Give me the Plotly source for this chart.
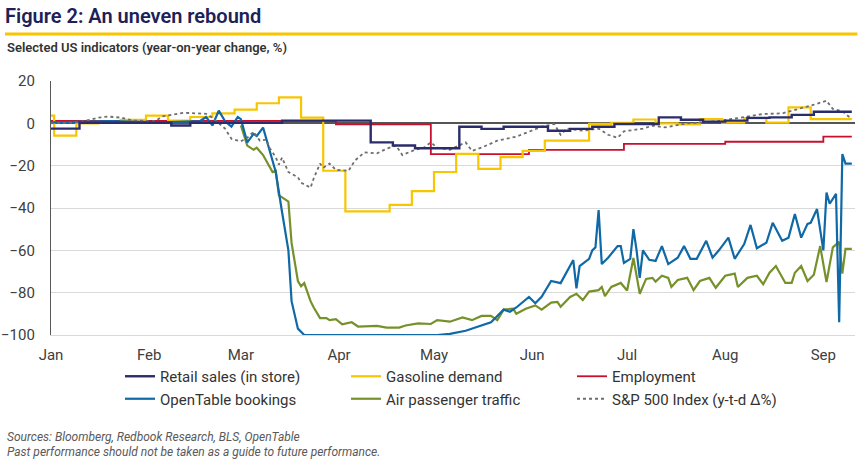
import plotly.graph_objects as go

# Data (2020, year-on-year change in %)

retail_dates = ["2020-01-01", "2020-01-10", "2020-02-08", "2020-02-14", "2020-03-14",
                "2020-04-11", "2020-04-18", "2020-04-25", "2020-05-09", "2020-05-16",
                "2020-05-23", "2020-06-06", "2020-06-13", "2020-06-20", "2020-06-27",
                "2020-07-11", "2020-07-18", "2020-07-25", "2020-08-01", "2020-08-08",
                "2020-08-15", "2020-08-22", "2020-08-29", "2020-09-10"]
retail_vals = [-2.5, 0.3, -1.0, 0.3, 1.3,
               -9.0, -10.5, -11.8, -1.6, -2.6,
               -1.6, -3.5, -2.6, -1.6, -0.3,
               2.8, 1.7, 0.8, 1.3, 2.6,
               2.8, 4.0, 5.5, 5.5]

gas_dates = ["2020-01-01", "2020-01-02", "2020-01-09", "2020-01-16", "2020-01-23",
             "2020-01-31", "2020-02-07", "2020-02-14", "2020-02-21", "2020-02-28",
             "2020-03-06", "2020-03-13", "2020-03-20", "2020-03-27", "2020-04-03",
             "2020-04-17", "2020-04-24", "2020-05-01", "2020-05-08", "2020-05-15",
             "2020-05-22", "2020-05-29", "2020-06-05", "2020-06-19", "2020-06-26",
             "2020-07-03", "2020-07-10", "2020-07-17", "2020-07-24", "2020-07-31",
             "2020-08-07", "2020-08-14", "2020-08-21", "2020-08-28", "2020-09-10"]
gas_vals = [3.6, -5.8, 0.0, 0.3, 1.6,
            3.6, 1.3, 3.0, 4.7, 6.5,
            9.5, 12.3, 2.7, -22.4, -41.6,
            -38.5, -32.0, -23.0, -14.4, -21.5,
            -16.0, -13.0, -8.2, -0.3, 0.2,
            1.8, 0.0, -0.5, 2.0, 0.3,
            2.5, 0.3, 7.5, 2.0, 2.0]

emp_dates = ["2020-01-01", "2020-03-31", "2020-04-30", "2020-05-31", "2020-06-30",
             "2020-08-01", "2020-09-01", "2020-09-10"]
emp_vals = [1.2, -0.5, -14.5, -12.5, -9.7, -8.7, -6.3, -6.3]

opentable_dates = ["2020-01-01", "2020-01-20", "2020-02-05", "2020-02-17", "2020-02-19",
                   "2020-02-21", "2020-02-23", "2020-02-25", "2020-02-27", "2020-02-29",
                   "2020-03-01", "2020-03-03", "2020-03-05", "2020-03-06", "2020-03-08",
                   "2020-03-11", "2020-03-12", "2020-03-14", "2020-03-16", "2020-03-17",
                   "2020-03-19", "2020-03-21", "2020-05-02", "2020-05-06", "2020-05-11",
                   "2020-05-15", "2020-05-19", "2020-05-21", "2020-05-23", "2020-05-25",
                   "2020-05-27", "2020-05-31", "2020-06-02", "2020-06-04", "2020-06-07",
                   "2020-06-10", "2020-06-12", "2020-06-14", "2020-06-15", "2020-06-16",
                   "2020-06-19", "2020-06-20", "2020-06-21", "2020-06-22", "2020-06-23",
                   "2020-06-25", "2020-06-28", "2020-06-29", "2020-06-30", "2020-07-02",
                   "2020-07-03", "2020-07-04", "2020-07-05", "2020-07-06", "2020-07-08",
                   "2020-07-10", "2020-07-12", "2020-07-14", "2020-07-17", "2020-07-19",
                   "2020-07-21", "2020-07-23", "2020-07-26", "2020-07-28", "2020-07-30",
                   "2020-08-02", "2020-08-04", "2020-08-07", "2020-08-09", "2020-08-11",
                   "2020-08-14", "2020-08-16", "2020-08-19", "2020-08-21", "2020-08-23",
                   "2020-08-25", "2020-08-27", "2020-08-28", "2020-08-30", "2020-09-01",
                   "2020-09-02", "2020-09-03", "2020-09-05", "2020-09-06", "2020-09-07",
                   "2020-09-08", "2020-09-10"]
opentable_vals = [0.5, 1.0, 0.5, 1.0, 3.0,
                  -1.0, 6.0, 1.0, -1.5, 3.0,
                  2.0, -9.0, -5.0, -6.0, -2.0,
                  -18.0, -23.0, -42.0, -60.0, -84.0,
                  -97.0, -100.0, -100.0, -99.5, -98.0,
                  -96.0, -94.0, -91.0, -88.0, -89.0,
                  -87.0, -82.0, -85.0, -82.0, -74.5,
                  -75.5, -70.0, -64.6, -78.0, -67.4,
                  -64.0, -60.0, -58.6, -41.0, -66.5,
                  -63.5, -58.0, -58.0, -66.0, -64.0,
                  -50.0, -60.0, -73.0, -60.0, -64.5,
                  -65.0, -58.0, -66.5, -63.5, -58.0,
                  -64.0, -64.0, -55.5, -63.5, -60.0,
                  -54.0, -64.0, -57.0, -48.0, -59.0,
                  -56.4, -47.0, -55.5, -54.0, -42.8,
                  -54.0, -47.5, -47.0, -40.5, -60.0,
                  -32.7, -38.0, -33.3, -94.0, -14.5,
                  -19.0, -19.0]

air_dates = ["2020-03-01", "2020-03-03", "2020-03-05", "2020-03-06", "2020-03-08",
             "2020-03-11", "2020-03-12", "2020-03-13", "2020-03-14", "2020-03-16",
             "2020-03-17", "2020-03-19", "2020-03-20", "2020-03-21", "2020-03-23",
             "2020-03-24", "2020-03-26", "2020-03-28", "2020-03-29", "2020-03-31",
             "2020-04-02", "2020-04-05", "2020-04-07", "2020-04-11", "2020-04-13",
             "2020-04-16", "2020-04-20", "2020-04-22", "2020-04-26", "2020-04-30",
             "2020-05-02", "2020-05-06", "2020-05-10", "2020-05-13", "2020-05-16",
             "2020-05-19", "2020-05-21", "2020-05-23", "2020-05-26", "2020-05-27",
             "2020-05-30", "2020-06-02", "2020-06-04", "2020-06-07", "2020-06-09",
             "2020-06-10", "2020-06-13", "2020-06-15", "2020-06-17", "2020-06-19",
             "2020-06-22", "2020-06-23", "2020-06-24", "2020-06-26", "2020-06-29",
             "2020-07-01", "2020-07-03", "2020-07-05", "2020-07-07", "2020-07-09",
             "2020-07-10", "2020-07-12", "2020-07-14", "2020-07-15", "2020-07-17",
             "2020-07-20", "2020-07-22", "2020-07-24", "2020-07-27", "2020-07-29",
             "2020-08-01", "2020-08-04", "2020-08-05", "2020-08-08", "2020-08-11",
             "2020-08-13", "2020-08-15", "2020-08-17", "2020-08-20", "2020-08-22",
             "2020-08-23", "2020-08-25", "2020-08-27", "2020-08-29", "2020-08-31",
             "2020-09-02", "2020-09-04", "2020-09-06", "2020-09-07", "2020-09-08",
             "2020-09-10"]
air_vals = [-1.0, -10.5, -12.5, -11.5, -15.0,
            -23.0, -22.4, -34.0, -35.0, -37.0,
            -56.5, -74.5, -77.0, -75.5, -84.0,
            -87.0, -92.0, -92.0, -93.0, -92.5,
            -95.0, -94.0, -96.0, -96.0, -95.7,
            -96.5, -96.5, -95.5, -94.5, -94.8,
            -93.0, -93.7, -91.7, -93.0, -91.0,
            -91.0, -93.0, -88.0, -87.6, -90.0,
            -87.6, -86.0, -88.0, -84.7, -84.4,
            -86.7, -82.0, -80.5, -83.5, -79.5,
            -78.8, -77.3, -81.6, -77.3, -75.4,
            -79.0, -63.6, -80.5, -73.5, -73.0,
            -74.8, -72.0, -73.0, -77.3, -74.0,
            -73.0, -78.8, -74.5, -73.0, -77.7,
            -72.0, -71.0, -77.3, -73.0, -72.0,
            -76.0, -70.6, -67.4, -75.4, -75.4,
            -70.6, -67.4, -74.5, -71.5, -58.0,
            -75.0, -58.6, -56.0, -71.0, -59.3,
            -59.3]

spx_dates = ["2020-01-01", "2020-01-10", "2020-01-16", "2020-01-19", "2020-01-23",
             "2020-01-27", "2020-02-03", "2020-02-05", "2020-02-12", "2020-02-19",
             "2020-02-21", "2020-02-25", "2020-02-27", "2020-03-01", "2020-03-03",
             "2020-03-05", "2020-03-07", "2020-03-09", "2020-03-10", "2020-03-12",
             "2020-03-13", "2020-03-14", "2020-03-16", "2020-03-17", "2020-03-19",
             "2020-03-20", "2020-03-23", "2020-03-24", "2020-03-26", "2020-03-27",
             "2020-03-29", "2020-03-31", "2020-04-04", "2020-04-06", "2020-04-09",
             "2020-04-13", "2020-04-16", "2020-04-19", "2020-04-21", "2020-04-25",
             "2020-04-28", "2020-04-30", "2020-05-02", "2020-05-06", "2020-05-11",
             "2020-05-13", "2020-05-16", "2020-05-21", "2020-05-27", "2020-06-04",
             "2020-06-08", "2020-06-10", "2020-06-12", "2020-06-17", "2020-06-22",
             "2020-06-25", "2020-06-28", "2020-06-30", "2020-07-06", "2020-07-09",
             "2020-07-13", "2020-07-20", "2020-07-26", "2020-07-31", "2020-08-07",
             "2020-08-13", "2020-08-19", "2020-08-23", "2020-08-29", "2020-09-02",
             "2020-09-04", "2020-09-07", "2020-09-09", "2020-09-10"]
spx_vals = [0.0, 0.5, 2.7, 3.2, 2.7,
            1.3, 1.0, 3.2, 5.0, 4.5,
            2.7, -2.5, -7.3, -8.5, -6.8,
            -4.0, -8.2, -7.7, -11.5, -16.0,
            -19.5, -16.2, -23.0, -23.8, -25.5,
            -28.0, -30.4, -26.0, -19.0, -21.0,
            -19.0, -22.0, -22.4, -17.6, -13.7,
            -14.2, -12.0, -10.5, -15.0, -12.5,
            -11.3, -9.0, -11.5, -12.5, -9.0,
            -13.0, -11.5, -8.2, -6.3, -1.6,
            -0.3, -5.4, -2.5, -3.5, -2.5,
            -5.4, -6.8, -3.8, -2.5, -1.1,
            -1.9, 0.0, 0.5, 1.3, 2.8,
            4.4, 4.7, 6.3, 8.8, 10.7,
            6.8, 5.7, 3.2, 3.0]

month_ticks = ["2020-01-01", "2020-02-01", "2020-03-01", "2020-04-01", "2020-05-01",
               "2020-06-01", "2020-07-01", "2020-08-01", "2020-09-01"]
month_labels = ["Jan", "Feb", "Mar", "Apr", "May", "Jun", "Jul", "Aug", "Sep"]
y_ticks = [20, 0, -20, -40, -60, -80, -100]

FONT = "Roboto"
NAVY = "#2B2C6B"
GOLD = "#F7C600"
RED = "#C8102E"
BLUE = "#0F69A6"
OLIVE = "#76912A"
GREY = "#6E6E6E"

fig = go.Figure()

# drawing order (bottom -> top); legendrank keeps the reference's legend layout
fig.add_trace(go.Scatter(x=emp_dates, y=emp_vals, name="Employment", mode="lines",
                         line=dict(color=RED, width=1.8, shape="hv"), legendrank=3))
fig.add_trace(go.Scatter(x=gas_dates, y=gas_vals, name="Gasoline demand", mode="lines",
                         line=dict(color=GOLD, width=2.2, shape="hv"), legendrank=2))
fig.add_trace(go.Scatter(x=air_dates, y=air_vals, name="Air passenger traffic", mode="lines",
                         line=dict(color=OLIVE, width=2.2), legendrank=5))
fig.add_trace(go.Scatter(x=opentable_dates, y=opentable_vals, name="OpenTable bookings",
                         mode="lines", line=dict(color=BLUE, width=2.2), legendrank=4))
fig.add_trace(go.Scatter(x=spx_dates, y=spx_vals, name="S&P 500 Index (y-t-d Δ%)",
                         mode="lines", line=dict(color=GREY, width=1.8, dash="dot"),
                         legendrank=6))
fig.add_trace(go.Scatter(x=retail_dates, y=retail_vals, name="Retail sales (in store)",
                         mode="lines", line=dict(color=NAVY, width=2.4, shape="hv"),
                         legendrank=1))

fig.update_layout(
    width=864, height=467,
    margin=dict(l=51, r=9, t=81, b=132, autoexpand=False),
    paper_bgcolor="white", plot_bgcolor="white",
    font=dict(family=FONT, color="#404040", size=15),
    title=dict(text="Figure 2: An uneven rebound", x=5 / 864, xanchor="left",
               xref="container", y=1 - 16 / 467, yanchor="middle", yref="container",
               font=dict(family=FONT, size=20, color="#1C2158", weight=600)),
    showlegend=True,
    legend=dict(orientation="h", xref="container", yref="container",
                x=120 / 864, xanchor="left", y=1 - 360 / 467, yanchor="top",
                entrywidth=181, entrywidthmode="pixels",
                font=dict(family=FONT, size=15, color="#333333"),
                traceorder="normal", bgcolor="rgba(0,0,0,0)"),
    shapes=[dict(type="line", xref="paper", yref="paper",
                 x0=-46 / 804, x1=1.003, y0=1 + 47 / 254, y1=1 + 47 / 254,
                 line=dict(color=GOLD, width=3))],
    annotations=[
        dict(text="Selected US indicators (year-on-year change, %)", xref="paper", yref="paper",
             x=-46 / 804, xanchor="left", y=(335 - 47) / 254, yanchor="middle",
             showarrow=False, font=dict(family=FONT, size=13, color="#333333", weight=600)),
        dict(text="<i>Sources: Bloomberg, Redbook Research, BLS, OpenTable</i>",
             xref="paper", yref="paper", x=-46 / 804, xanchor="left",
             y=(335 - 437) / 254, yanchor="middle", showarrow=False,
             font=dict(family=FONT, size=12, color="#595959")),
        dict(text="<i>Past performance should not be taken as a guide to future performance.</i>",
             xref="paper", yref="paper", x=-46 / 804, xanchor="left",
             y=(335 - 452) / 254, yanchor="middle", showarrow=False,
             font=dict(family=FONT, size=12, color="#595959")),
    ],
)

fig.update_xaxes(
    type="date", range=["2020-01-01", "2020-09-11"], automargin=False,
    tickvals=month_ticks, ticktext=month_labels,
    showgrid=False, zeroline=False, showline=True, linecolor="#D9D9D9", linewidth=1,
    ticks="", ticklabelstandoff=6, tickfont=dict(size=15, color="#404040"),
)
fig.update_yaxes(
    range=[-100, 20], tickvals=y_ticks, automargin=False,
    showgrid=True, gridcolor="#D9D9D9", gridwidth=1,
    zeroline=True, zerolinecolor="#555555", zerolinewidth=1.5,
    showline=True, linecolor="#595959", linewidth=1.2,
    ticks="", ticklabelstandoff=12, tickfont=dict(size=15, color="#404040"),
)

# the page's default body margin would shift the fixed-size figure by 8px
fig.write_html("out.html", config={"displayModeBar": False},
               post_script="document.body.style.margin = '0';")
